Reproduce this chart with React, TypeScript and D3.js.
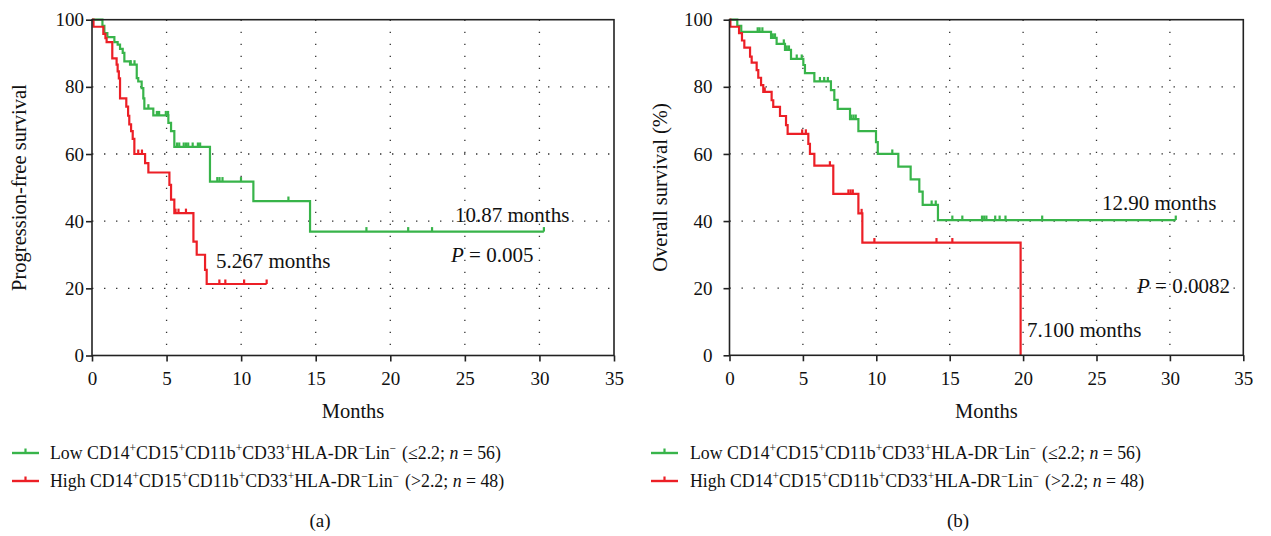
import React, { useRef, useEffect } from "react";
import * as d3 from "d3";

const monthTicks = [0, 5, 10, 15, 20, 25, 30, 35];
const survTicks = [0, 20, 40, 60, 80, 100];

// (a) progression-free survival, low group
const pfsLowTimes = [0, 0.7, 0.83, 1.03, 1.5, 1.72, 1.88, 2.06, 2.17, 2.55, 3.0, 3.1, 3.33, 3.44, 3.51, 4.11, 5.12, 5.3, 5.52, 7.91, 10.82, 14.62];
const pfsLowSurv = [100, 98.2, 96.0, 94.8, 93.3, 92.6, 91.3, 90.1, 87.6, 86.6, 82.6, 81.6, 79.6, 76.6, 73.5, 71.5, 69.3, 66.8, 62.1, 51.8, 46.0, 36.9];
const pfsLowCensor = [2.6, 2.85, 3.78, 4.35, 4.5, 4.95, 5.1, 5.7, 5.85, 6.15, 6.3, 6.45, 6.75, 7.1, 7.25, 8.4, 8.55, 8.75, 9.99, 13.17, 18.4, 21.2, 22.8, 30.3];

// (a) progression-free survival, high group
const pfsHighTimes = [0, 0.1, 0.76, 0.9, 0.98, 1.36, 1.65, 1.72, 1.8, 1.88, 2.3, 2.42, 2.5, 2.62, 2.73, 2.84, 3.56, 3.78, 5.19, 5.3, 5.52, 6.8, 7.02, 7.58, 7.69];
const pfsHighSurv = [100, 97.9, 95.8, 94.5, 93.3, 88.5, 86.6, 84.6, 82.5, 76.6, 74.1, 71.4, 68.8, 66.8, 64.5, 60.0, 57.3, 54.5, 50.8, 46.4, 42.4, 33.9, 30.0, 25.5, 21.3];
const pfsHighCensor = [3.1, 3.35, 5.6, 5.8, 6.3, 8.54, 8.94, 10.2, 11.71];

// (b) overall survival, low group
const osLowTimes = [0, 0.53, 0.8, 2.83, 3.21, 3.78, 4.19, 5.03, 5.14, 5.78, 6.91, 7.14, 7.37, 8.21, 8.78, 9.98, 10.1, 11.5, 12.34, 12.93, 13.16, 14.2];
const osLowSurv = [100, 98.2, 96.4, 94.6, 92.8, 91.0, 88.3, 86.5, 84.1, 81.6, 79.0, 76.1, 73.4, 70.4, 66.8, 63.5, 60.0, 56.2, 52.4, 48.8, 44.8, 40.3];
const osLowCensor = [1.92, 2.05, 2.24, 2.95, 3.1, 3.7, 3.9, 4.05, 4.58, 4.92, 6.16, 6.45, 6.7, 8.3, 8.45, 8.6, 11.09, 13.77, 14.05, 15.18, 15.86, 17.2, 17.35, 17.5, 18.1, 18.4, 18.8, 21.3, 30.4];

// (b) overall survival, high group
const osHighTimes = [0, 0.06, 0.65, 0.85, 1.01, 1.4, 1.51, 1.85, 1.96, 2.15, 2.3, 2.87, 2.98, 3.44, 3.85, 3.96, 5.37, 5.48, 5.78, 7.07, 8.78, 9.05, 19.83];
const osHighSurv = [100, 97.9, 96.0, 93.8, 91.7, 89.0, 87.2, 85.0, 82.7, 80.5, 78.5, 76.0, 74.0, 71.3, 68.6, 66.0, 63.0, 60.0, 56.5, 48.1, 42.3, 33.6, 0];
const osHighCensor = [2.4, 4.95, 5.2, 6.84, 8.1, 8.25, 8.4, 9.0, 9.87, 14.1, 15.18];

const GREEN = "#38b44a";
const RED = "#ec1f26";
const FONT = "'Liberation Serif', 'DejaVu Serif', serif";

type Curve = { times: number[]; surv: number[]; censor: number[]; color: string };

type PanelProps = {
  x0: number;
  x1: number;
  yTop: number;
  yBottom: number;
  yLabel: string;
  yLabelOffset: number;
  yPad: number;
  curves: Curve[];
  notes: { text: string; x: number; y: number; italicP?: boolean }[];
};

const drawPanel = (svg: any, p: PanelProps) => {
  const x = d3.scaleLinear().domain([0, 35]).range([p.x0, p.x1]);
  const y = d3.scaleLinear().domain([0, 100]).range([p.yBottom, p.yTop]);
  const g = svg.append("g");

  // dotted grid
  g.selectAll(".vgrid")
    .data(monthTicks.slice(1, -1))
    .enter()
    .append("line")
    .attr("x1", (d) => x(d))
    .attr("x2", (d) => x(d))
    .attr("y1", p.yTop)
    .attr("y2", p.yBottom)
    .attr("stroke", "#333")
    .attr("stroke-width", 1.3)
    .attr("stroke-dasharray", "1.4,10.6");
  g.selectAll(".hgrid")
    .data(survTicks.slice(1, -1))
    .enter()
    .append("line")
    .attr("x1", p.x0)
    .attr("x2", p.x1)
    .attr("y1", (d) => y(d))
    .attr("y2", (d) => y(d))
    .attr("stroke", "#333")
    .attr("stroke-width", 1.3)
    .attr("stroke-dasharray", "1.4,10.6");

  // curves
  p.curves.forEach((c) => {
    const end = Math.max(c.times[c.times.length - 1], d3.max(c.censor) || 0);
    const pts: [number, number][] = c.times.map((t, i) => [t, c.surv[i]]);
    pts.push([end, c.surv[c.surv.length - 1]]);
    const line = d3
      .line<[number, number]>()
      .x((d) => x(d[0]))
      .y((d) => y(d[1]))
      .curve(d3.curveStepAfter);
    g.append("path")
      .datum(pts)
      .attr("fill", "none")
      .attr("stroke", c.color)
      .attr("stroke-width", 2.2)
      .attr("d", line);
    // censor ticks
    g.selectAll(null)
      .data(c.censor)
      .enter()
      .append("line")
      .attr("x1", (d) => x(d))
      .attr("x2", (d) => x(d))
      .attr("y1", (d) => y(c.surv[d3.bisectRight(c.times, d) - 1]))
      .attr("y2", (d) => y(c.surv[d3.bisectRight(c.times, d) - 1]) - 4.5)
      .attr("stroke", c.color)
      .attr("stroke-width", 2.2);
  });

  // frame
  g.append("rect")
    .attr("x", p.x0)
    .attr("y", p.yTop)
    .attr("width", p.x1 - p.x0)
    .attr("height", p.yBottom - p.yTop)
    .attr("fill", "none")
    .attr("stroke", "#222")
    .attr("stroke-width", 1.6);

  // axes
  const xAxis = g
    .append("g")
    .attr("transform", `translate(0,${p.yBottom})`)
    .call(d3.axisBottom(x).tickValues(monthTicks).tickSize(6).tickPadding(10));
  const yAxis = g
    .append("g")
    .attr("transform", `translate(${p.x0},0)`)
    .call(d3.axisLeft(y).tickValues(survTicks).tickSize(6).tickPadding(p.yPad));
  [xAxis, yAxis].forEach((a) => {
    a.select(".domain").remove();
    a.selectAll("line").attr("stroke", "#222").attr("stroke-width", 1.6);
    a.selectAll("text").attr("font-family", FONT).attr("font-size", 19).attr("fill", "#111");
  });

  g.append("text")
    .attr("x", (p.x0 + p.x1) / 2)
    .attr("y", 418)
    .attr("text-anchor", "middle")
    .attr("font-family", FONT)
    .attr("font-size", 20.5)
    .attr("fill", "#111")
    .text("Months");

  g.append("text")
    .attr("transform", `translate(${p.x0 - p.yLabelOffset},${(p.yTop + p.yBottom) / 2}) rotate(-90)`)
    .attr("text-anchor", "middle")
    .attr("font-family", FONT)
    .attr("font-size", 20.5)
    .attr("fill", "#111")
    .text(p.yLabel);

  p.notes.forEach((n) => {
    const t = g
      .append("text")
      .attr("x", n.x)
      .attr("y", n.y)
      .attr("font-family", FONT)
      .attr("font-size", 21)
      .attr("fill", "#111");
    if (n.italicP) {
      t.append("tspan").attr("font-style", "italic").text("P");
      t.append("tspan").text(n.text);
    } else {
      t.text(n.text);
    }
  });
};

const legendRows = [
  { label: "Low", sign: "≤", n: "56", color: GREEN, y: 459 },
  { label: "High", sign: ">", n: "48", color: RED, y: 487 },
];

const drawLegend = (svg: any, lx: number, tx: number, cx: number, caption: string) => {
  legendRows.forEach((r) => {
    svg.append("line")
      .attr("x1", lx).attr("x2", lx + 27)
      .attr("y1", r.y - 6).attr("y2", r.y - 6)
      .attr("stroke", r.color).attr("stroke-width", 2.4);
    svg.append("line")
      .attr("x1", lx + 13.5).attr("x2", lx + 13.5)
      .attr("y1", r.y - 6).attr("y2", r.y - 10.5)
      .attr("stroke", r.color).attr("stroke-width", 2.2);
    const t = svg.append("text")
      .attr("x", tx).attr("y", r.y)
      .attr("font-family", FONT).attr("font-size", 17.8).attr("fill", "#111");
    const parts: [string, string][] = [
      [`${r.label} CD14`, "+"], ["CD15", "+"], ["CD11b", "+"], ["CD33", "+"], ["HLA-DR", "−"], ["Lin", "−"],
    ];
    parts.forEach(([base, sup]) => {
      t.append("tspan").attr("y", r.y).text(base);
      t.append("tspan").attr("y", r.y - 7.5).attr("font-size", 11.5).text(sup);
    });
    t.append("tspan").attr("y", r.y).attr("dx", 6).text(`(${r.sign}2.2; `);
    t.append("tspan").attr("font-style", "italic").text("n");
    t.append("tspan").text(` = ${r.n})`);
  });
  svg.append("text")
    .attr("x", cx).attr("y", 527)
    .attr("text-anchor", "middle")
    .attr("font-family", FONT).attr("font-size", 19).attr("fill", "#111")
    .text(caption);
};

const App = () => {
  const svgRef = useRef<SVGSVGElement>(null);

  useEffect(() => {
    const svg = d3.select(svgRef.current);
    svg.selectAll("*").remove();

    drawPanel(svg, {
      x0: 92,
      x1: 614,
      yTop: 19.7,
      yBottom: 355.5,
      yLabel: "Progression-free survival",
      yLabelOffset: 66,
      yPad: 2,
      curves: [
        { times: pfsLowTimes, surv: pfsLowSurv, censor: pfsLowCensor, color: GREEN },
        { times: pfsHighTimes, surv: pfsHighSurv, censor: pfsHighCensor, color: RED },
      ],
      notes: [
        { text: "10.87 months", x: 455, y: 222 },
        { text: " = 0.005", x: 451, y: 262, italicP: true },
        { text: "5.267 months", x: 216, y: 268 },
      ],
    });

    drawPanel(svg, {
      x0: 729.5,
      x1: 1243.3,
      yTop: 19.7,
      yBottom: 355.3,
      yLabel: "Overall survival (%)",
      yLabelOffset: 63,
      yPad: 11,
      curves: [
        { times: osLowTimes, surv: osLowSurv, censor: osLowCensor, color: GREEN },
        { times: osHighTimes, surv: osHighSurv, censor: osHighCensor, color: RED },
      ],
      notes: [
        { text: "12.90 months", x: 1102, y: 210 },
        { text: " = 0.0082", x: 1137, y: 293, italicP: true },
        { text: "7.100 months", x: 1027, y: 337 },
      ],
    });

    drawLegend(svg, 12, 50, 320, "(a)");
    drawLegend(svg, 651, 690, 958, "(b)");
  }, []);

  return (
    <svg
      ref={svgRef}
      width={1271}
      height={536}
      style={{ position: "absolute", left: 0, top: 0, background: "#fff" }}
    ></svg>
  );
};

export default App;
